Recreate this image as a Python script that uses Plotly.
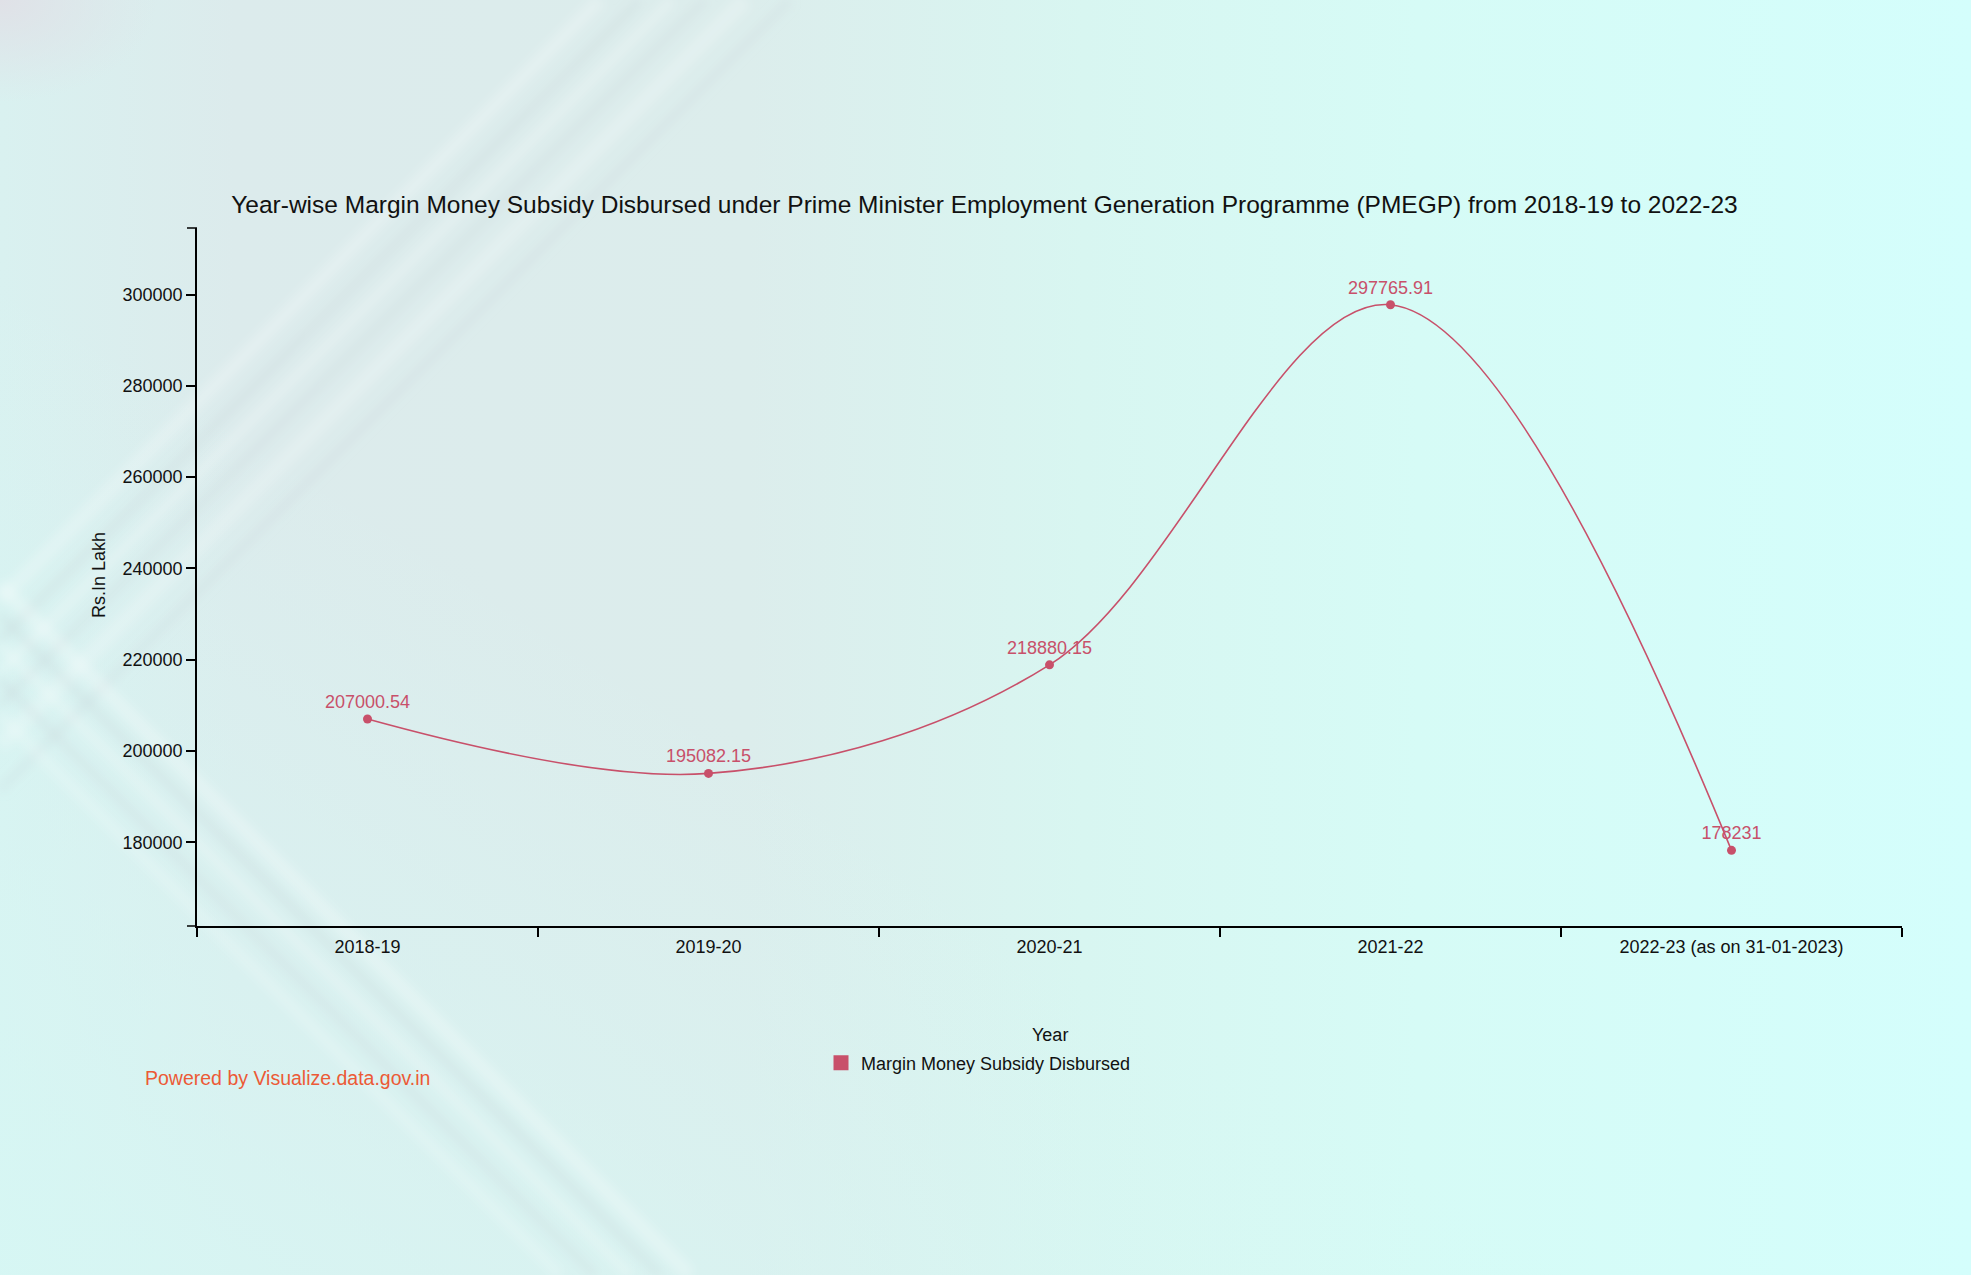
import base64
import plotly.graph_objects as go

# ---- data ----
years = ["2018-19", "2019-20", "2020-21", "2021-22", "2022-23 (as on 31-01-2023)"]
subsidy = [207000.54, 195082.15, 218880.15, 297765.91, 178231]
subsidy_labels = ["207000.54", "195082.15", "218880.15", "297765.91", "178231"]
y_ticks = [180000, 200000, 220000, 240000, 260000, 280000, 300000]
series_name = "Margin Money Subsidy Disbursed"
title_text = ("Year-wise Margin Money Subsidy Disbursed under Prime Minister Employment "
              "Generation Programme (PMEGP) from 2018-19 to 2022-23")

W, H = 1971, 1275
L, R, T, B = 197, 69, 228, 349
PW, PH = W - L - R, H - T - B

FONT = "Liberation Sans, Arial, Helvetica, sans-serif"
LINE_COLOR = "#c8506a"

# ---- background (decorative gradient with diagonal light stripes) ----
stripes = []
for c, col, op, sw in [(600, "#ffffff", 0.22, 14), (640, "#c6d3d8", 0.28, 8), (672, "#ffffff", 0.22, 10),
                       (705, "#c6d3d8", 0.25, 8), (745, "#ffffff", 0.20, 16), (790, "#c6d3d8", 0.20, 10)]:
    stripes.append(f"<line x1='{c}' y1='0' x2='0' y2='{c}' stroke='{col}' stroke-opacity='{op}' stroke-width='{sw}'/>")
for c, col, op, sw in [(585, "#ffffff", 0.25, 14), (615, "#c6d3d8", 0.28, 8), (645, "#ffffff", 0.22, 10),
                       (680, "#c6d3d8", 0.25, 9), (715, "#ffffff", 0.18, 12)]:
    stripes.append(f"<line x1='0' y1='{c}' x2='{H - c}' y2='{H}' stroke='{col}' stroke-opacity='{op}' stroke-width='{sw}'/>")

svg = f"""<svg xmlns='http://www.w3.org/2000/svg' width='{W}' height='{H}' viewBox='0 0 {W} {H}'>
<defs>
<linearGradient id='g' x1='0' y1='0' x2='1' y2='0'>
<stop offset='0' stop-color='#d9f1f0'/>
<stop offset='0.12' stop-color='#dcebec'/>
<stop offset='0.38' stop-color='#dcedec'/>
<stop offset='0.55' stop-color='#d8f6f1'/>
<stop offset='0.72' stop-color='#d6fbf6'/>
<stop offset='1' stop-color='#d4fefc'/>
</linearGradient>
<radialGradient id='c' cx='0' cy='0' r='0.08'>
<stop offset='0' stop-color='#e0e1e7' stop-opacity='1'/>
<stop offset='1' stop-color='#e0e1e7' stop-opacity='0'/>
</radialGradient>
<linearGradient id='bl' x1='0' y1='1' x2='0.4' y2='0.6'>
<stop offset='0' stop-color='#d6f7f4' stop-opacity='0.9'/>
<stop offset='1' stop-color='#d6f7f4' stop-opacity='0'/>
</linearGradient>
<filter id='b'><feGaussianBlur stdDeviation='5'/></filter>
</defs>
<rect width='{W}' height='{H}' fill='url(#g)'/>
<rect width='{W}' height='{H}' fill='url(#bl)'/>
<rect width='{W}' height='{H}' fill='url(#c)'/>
<g filter='url(#b)'>{''.join(stripes)}</g>
</svg>"""
bg_src = "data:image/svg+xml;base64," + base64.b64encode(svg.encode()).decode()

fig = go.Figure()
fig.add_trace(go.Scatter(
    x=years, y=subsidy, mode="lines+markers+text",
    line=dict(color=LINE_COLOR, width=1.6, shape="spline", smoothing=1),
    marker=dict(color=LINE_COLOR, size=9),
    text=subsidy_labels, textposition="top center",
    textfont=dict(family=FONT, size=18, color=LINE_COLOR),
    showlegend=False, hoverinfo="x+y",
))
# legend entry (square swatch)
fig.add_trace(go.Scatter(
    x=[None], y=[None], mode="markers", name=series_name,
    marker=dict(symbol="square", size=15, color=LINE_COLOR),
    showlegend=True,
))

def px_x(p):
    return (p - L) / PW

def px_y(p):
    return (T + PH - p) / PH

ytop, ybot = 314590, 161650

fig.update_layout(
    width=W, height=H,
    margin=dict(l=L, r=R, t=T, b=B, autoexpand=False),
    paper_bgcolor="#d7f7f3",
    plot_bgcolor="rgba(0,0,0,0)",
    font=dict(family=FONT, size=18, color="#111111"),
    title=dict(text=title_text, x=0.4995, xanchor="center", y=1 - 204 / H, yanchor="middle",
               font=dict(family=FONT, size=24.5, color="#111111")),
    xaxis=dict(type="category", range=[-0.5, 4.5], tickson="boundaries", ticks="outside",
               ticklen=9, tickwidth=1.5, tickcolor="#000000", showline=True, linecolor="#000000",
               linewidth=1.5, showgrid=False, zeroline=False, ticklabelstandoff=4,
               tickfont=dict(family=FONT, size=18, color="#111111")),
    yaxis=dict(range=[ybot, ytop], tickvals=y_ticks, ticks="outside", ticklen=9, tickwidth=1.5,
               tickcolor="#000000", showline=True, linecolor="#000000", linewidth=1.5,
               showgrid=False, zeroline=False, tickformat="d",
               tickfont=dict(family=FONT, size=18, color="#111111")),
    legend=dict(orientation="h", x=px_x(821), xanchor="left", y=px_y(1063), yanchor="middle",
                bgcolor="rgba(0,0,0,0)", font=dict(family=FONT, size=18, color="#111111")),
    images=[dict(source=bg_src, xref="paper", yref="paper", x=-L / PW, y=1 + T / PH,
                 sizex=W / PW, sizey=H / PH, sizing="stretch", layer="below", xanchor="left",
                 yanchor="top")],
    annotations=[
        dict(text="Rs.In Lakh", xref="paper", yref="paper", x=px_x(99), y=px_y(575),
             textangle=-90, showarrow=False, xanchor="center", yanchor="middle",
             font=dict(family=FONT, size=18, color="#111111")),
        dict(text="Year", xref="paper", yref="paper", x=px_x(1050), y=px_y(1035),
             showarrow=False, xanchor="center", yanchor="middle",
             font=dict(family=FONT, size=18, color="#111111")),
        dict(text="Powered by Visualize.data.gov.in", xref="paper", yref="paper",
             x=px_x(143), y=px_y(1078), showarrow=False, xanchor="left", yanchor="middle",
             font=dict(family=FONT, size=19.5, color="#ec5a36")),
    ],
    shapes=[
        dict(type="line", xref="paper", yref="paper", x0=-10 / PW, x1=0, y0=1, y1=1,
             line=dict(color="#000000", width=1.5)),
        dict(type="line", xref="paper", yref="paper", x0=-10 / PW, x1=0, y0=0, y1=0,
             line=dict(color="#000000", width=1.5)),
    ],
)

fig.write_html("out.html")
